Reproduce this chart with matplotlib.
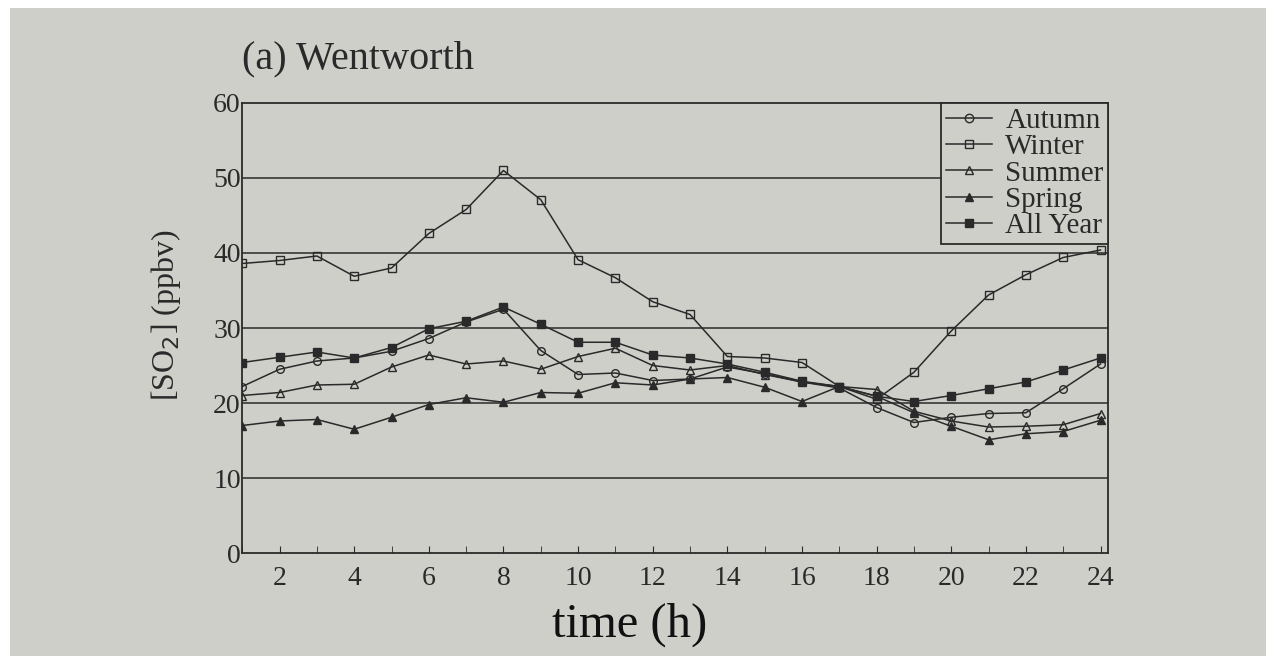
import matplotlib.pyplot as plt
import matplotlib
from matplotlib.patches import Rectangle

matplotlib.rcParams['font.family'] = 'Liberation Serif'

hours = list(range(1, 25))

autumn = [22.2, 24.5, 25.6, 26.0, 26.9, 28.6, 30.8, 32.5, 27.0, 23.8, 24.0, 23.0,
          23.2, 24.8, 23.9, 22.8, 22.0, 19.4, 17.4, 18.1, 18.6, 18.7, 21.9, 25.2]
winter = [38.6, 39.0, 39.6, 36.9, 38.0, 42.6, 45.8, 51.0, 47.1, 39.1, 36.7, 33.5,
          31.8, 26.2, 26.0, 25.4, 22.2, 20.5, 24.1, 29.6, 34.4, 37.1, 39.4, 40.4]
summer = [21.0, 21.4, 22.4, 22.5, 24.8, 26.4, 25.2, 25.6, 24.5, 26.2, 27.3, 25.0,
          24.4, 25.0, 23.8, 22.8, 22.2, 21.8, 18.9, 17.6, 16.8, 16.9, 17.1, 18.6]
spring = [17.0, 17.6, 17.8, 16.5, 18.1, 19.8, 20.7, 20.1, 21.4, 21.3, 22.7, 22.4,
          23.2, 23.4, 22.1, 20.2, 22.2, 20.9, 18.7, 16.9, 15.1, 15.9, 16.2, 17.7]
all_year = [25.4, 26.1, 26.8, 26.0, 27.4, 29.9, 30.9, 32.8, 30.5, 28.1, 28.1, 26.4,
            26.0, 25.2, 24.1, 22.9, 22.2, 20.9, 20.2, 21.0, 21.9, 22.8, 24.4, 26.0]

y_ticks = [0, 10, 20, 30, 40, 50, 60]
x_ticks = [2, 4, 6, 8, 10, 12, 14, 16, 18, 20, 22, 24]

paper = '#cfcfca'
ink = '#2a2a2a'

fig = plt.figure(figsize=(12.75, 6.56), dpi=100, facecolor='white')
# paper of the photographed page
fig.patches.append(Rectangle((0.008, 0.0), 0.985, 0.988, transform=fig.transFigure,
                             facecolor=paper, edgecolor='none', zorder=-10))

ax = fig.add_axes([0.19, 0.157, 0.679, 0.686])
ax.set_facecolor(paper)

series = [
    ("Autumn", autumn, 'o', 'none'),
    ("Winter", winter, 's', 'none'),
    ("Summer", summer, '^', 'none'),
    ("Spring", spring, '^', ink),
    ("All Year", all_year, 's', ink),
]
for name, vals, mk, fc in series:
    ax.plot(hours, vals, marker=mk, markersize=5.5, markerfacecolor=fc,
            markeredgecolor=ink, markeredgewidth=1.0, color=ink, linewidth=1.1,
            label=name)

for yv in y_ticks[1:-1]:
    ax.axhline(yv, color=ink, linewidth=1.1, zorder=0)

ax.set_xlim(1, 24.2)
ax.set_ylim(0, 60)
ax.set_yticks(y_ticks)
ax.set_xticks(x_ticks)
ax.set_xticks(range(1, 25), minor=True)
ax.tick_params(axis='x', which='both', direction='in', length=5, colors=ink,
               labelsize=20, pad=9)
ax.tick_params(axis='y', direction='in', length=0, colors=ink, labelsize=20, pad=1)
for sp in ax.spines.values():
    sp.set_color(ink)
    sp.set_linewidth(1.3)

leg = ax.legend(loc='upper right', bbox_to_anchor=(1.0, 1.0), fontsize=21,
                frameon=True, fancybox=False, edgecolor=ink, facecolor=paper,
                framealpha=1.0, handlelength=1.6, handletextpad=0.45,
                labelspacing=0.0, borderpad=0.15, borderaxespad=0,
                markerscale=1.1)
leg.get_frame().set_linewidth(1.3)
for t in leg.get_texts():
    t.set_color(ink)

fig.text(0.19, 0.91, "(a) Wentworth", fontsize=29, color=ink, ha='left', va='center')
fig.text(0.13, 0.52, "[SO$_2$] (ppbv)", fontsize=23, color=ink, rotation=90,
         ha='center', va='center')
fig.text(0.494, 0.047, "time (h)", fontsize=35, color='#111111', ha='center', va='center')

plt.savefig('out.png', dpi=100, facecolor=fig.get_facecolor())
plt.close()
